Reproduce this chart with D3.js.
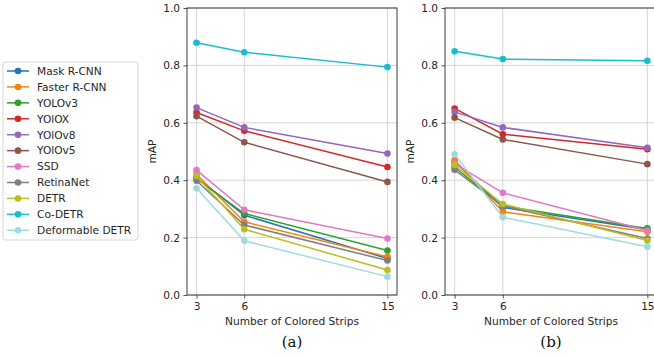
<!DOCTYPE html>
<html>
<head>
<meta charset="utf-8">
<script src="https://cdn.jsdelivr.net/npm/d3@7"></script>
<style>
  body { margin: 0; background: #fff; }
  svg { display: block; font-family: "DejaVu Sans", sans-serif; }
</style>
</head>
<body>
<div id="chart"></div>
<script>
// mAP vs number of colored strips, two panels (a) and (b)
const strips = [3, 6, 15];
const yTicks = [0.0, 0.2, 0.4, 0.6, 0.8, 1.0];

const models = ['Mask R-CNN', 'Faster R-CNN', 'YOLOv3', 'YOlOX', 'YOlOv8', 'YOlOv5',
  'SSD', 'RetinaNet', 'DETR', 'Co-DETR', 'Deformable DETR'];
const colors = ['#1f77b4', '#ff7f0e', '#2ca02c', '#d62728', '#9467bd', '#8c564b',
  '#e377c2', '#7f7f7f', '#bcbd22', '#17becf', '#9edae5'];

// panel (a)
const mapA = [
  [0.410, 0.278, 0.127],
  [0.420, 0.255, 0.133],
  [0.405, 0.284, 0.155],
  [0.636, 0.572, 0.446],
  [0.653, 0.584, 0.493],
  [0.623, 0.532, 0.394],
  [0.435, 0.297, 0.197],
  [0.398, 0.244, 0.120],
  [0.415, 0.229, 0.087],
  [0.879, 0.846, 0.794],
  [0.372, 0.189, 0.064]
];
// panel (b)
const mapB = [
  [0.465, 0.305, 0.228],
  [0.470, 0.290, 0.220],
  [0.445, 0.310, 0.232],
  [0.650, 0.560, 0.508],
  [0.638, 0.584, 0.513],
  [0.618, 0.542, 0.456],
  [0.458, 0.356, 0.225],
  [0.436, 0.310, 0.197],
  [0.453, 0.317, 0.190],
  [0.849, 0.822, 0.816],
  [0.490, 0.271, 0.168]
];

const W = 654, H = 358;
const fs = '10.6px';
const svg = d3.select('#chart').append('svg')
  .attr('width', W)
  .attr('height', H);

const panels = [
  { data: mapA, left: 187, right: 397, label: '(a)' },
  { data: mapB, left: 445, right: 657, label: '(b)' }
];
const plotTop = 8, plotBottom = 295;

panels.forEach(p => {
  const x = d3.scaleLinear().domain([2.4, 15.6]).range([p.left, p.right]);
  const y = d3.scaleLinear().domain([0, 1]).range([plotBottom, plotTop]);
  const g = svg.append('g');

  // grid
  g.selectAll('.gx').data(strips).enter().append('line')
    .attr('x1', d => x(d)).attr('x2', d => x(d))
    .attr('y1', plotTop).attr('y2', plotBottom)
    .attr('stroke', '#cbcbcb').attr('stroke-width', 0.8);
  g.selectAll('.gy').data(yTicks).enter().append('line')
    .attr('x1', p.left).attr('x2', p.right)
    .attr('y1', d => y(d)).attr('y2', d => y(d))
    .attr('stroke', '#cbcbcb').attr('stroke-width', 0.8);

  // axes
  const xAxis = g.append('g')
    .attr('transform', `translate(0,${plotBottom})`)
    .call(d3.axisBottom(x).tickValues(strips).tickSize(3.5).tickPadding(3.5).tickFormat(d3.format('d')));
  const yAxis = g.append('g')
    .attr('transform', `translate(${p.left},0)`)
    .call(d3.axisLeft(y).tickValues(yTicks).tickSize(3.5).tickPadding(3.5).tickFormat(d3.format('.1f')));
  [xAxis, yAxis].forEach(a => {
    a.select('.domain').remove();
    a.selectAll('line').attr('stroke', '#262626').attr('stroke-width', 0.8);
    a.selectAll('text').attr('fill', '#262626').style('font-size', fs)
      .style('font-family', '"DejaVu Sans", sans-serif');
  });

  // spines
  g.append('rect')
    .attr('x', p.left).attr('y', plotTop)
    .attr('width', p.right - p.left).attr('height', plotBottom - plotTop)
    .attr('fill', 'none').attr('stroke', '#262626').attr('stroke-width', 0.9);

  // series
  const line = d3.line().x((d, i) => x(strips[i])).y(d => y(d));
  p.data.forEach((vals, k) => {
    g.append('path').datum(vals)
      .attr('d', line)
      .attr('fill', 'none')
      .attr('stroke', colors[k])
      .attr('stroke-width', 1.5);
    g.selectAll(null).data(vals).enter().append('circle')
      .attr('cx', (d, i) => x(strips[i]))
      .attr('cy', d => y(d))
      .attr('r', 3.3)
      .attr('fill', colors[k]);
  });

  // labels
  const cx = (p.left + p.right) / 2;
  g.append('text')
    .attr('x', cx).attr('y', 325)
    .attr('text-anchor', 'middle')
    .style('font-size', fs).attr('fill', '#262626')
    .text('Number of Colored Strips');
  g.append('text')
    .attr('transform', `translate(${p.left - 31},${(plotTop + plotBottom) / 2}) rotate(-90)`)
    .attr('text-anchor', 'middle')
    .style('font-size', fs).attr('fill', '#262626')
    .text('mAP');
  g.append('text')
    .attr('x', cx).attr('y', 347)
    .attr('text-anchor', 'middle')
    .style('font-family', '"DejaVu Serif", serif')
    .style('font-size', '15px').attr('fill', '#111')
    .text(p.label);
});

// legend
const leg = svg.append('g').attr('transform', 'translate(3,62)');
leg.append('rect')
  .attr('width', 135).attr('height', 178)
  .attr('rx', 2.5)
  .attr('fill', '#fff').attr('stroke', '#cccccc').attr('stroke-width', 0.8);
models.forEach((m, k) => {
  const yy = 9 + k * 15.93;
  leg.append('line')
    .attr('x1', 4).attr('x2', 26).attr('y1', yy).attr('y2', yy)
    .attr('stroke', colors[k]).attr('stroke-width', 1.5);
  leg.append('circle')
    .attr('cx', 15).attr('cy', yy).attr('r', 3.3).attr('fill', colors[k]);
  leg.append('text')
    .attr('x', 34).attr('y', yy + 3.8)
    .style('font-size', fs).attr('fill', '#262626')
    .text(m);
});
</script>
</body>
</html>
